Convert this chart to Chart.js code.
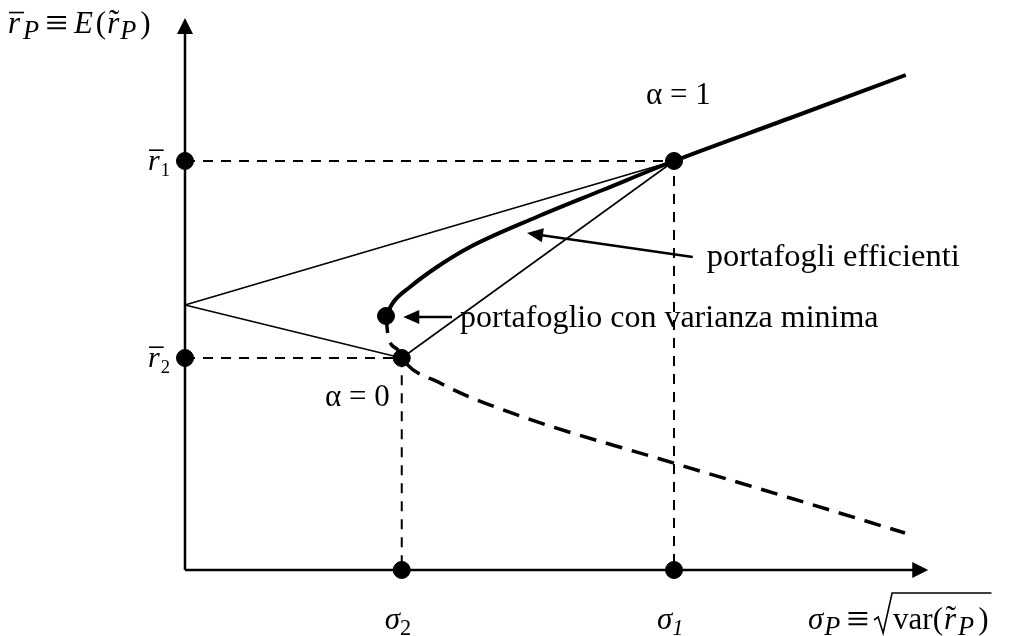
<!DOCTYPE html>
<html lang="it">
<head>
  <meta charset="UTF-8" />
  <title>Frontiera dei portafogli</title>
  <script src="https://cdn.jsdelivr.net/npm/chart.js"></script>
  <style>
    body { margin: 0; background: #fff; }
    canvas { display: block; background: #fff; }
  </style>
</head>
<body>
  <canvas id="frontier" width="1011" height="636"></canvas>

  <script>
    // the two risky assets (sigma, mean return)
    const asset1 = [6.52, 8.18];   // alpha = 1
    const asset2 = [2.89, 4.24];   // alpha = 0
    const minVariance = [2.68, 5.08];
    const intercept = [0, 5.30];

    // efficient branch, from the minimum-variance portfolio upward
    const efficientSigma  = [2.68, 2.77, 3.00, 3.36, 3.80, 4.69, 5.57, 6.52, 8.07, 9.61];
    const efficientReturn = [5.08, 5.34, 5.66, 6.06, 6.46, 7.06, 7.60, 8.18, 9.04, 9.90];

    // inefficient branch (dashed)
    const lowerSigma  = [2.68, 2.71, 2.84, 2.89, 3.40, 4.51, 6.29, 8.07, 9.60];
    const lowerReturn = [5.08, 4.66, 4.40, 4.24, 3.74, 3.06, 2.24, 1.44, 0.74];

    // where the axis arrows end
    const sigmaAxisEnd = 9.91;
    const returnAxisEnd = 11.04;

    const FONT = '"Liberation Serif", "Times New Roman", serif';
    const pt = ([x, y]) => ({ x, y });
    const xy = (xs, ys) => xs.map((x, i) => ({ x, y: ys[i] }));

    function line(data, width, dash) {
      return {
        data, showLine: true, borderColor: '#000', borderWidth: width,
        borderDash: dash || [], pointRadius: 0, clip: false, fill: false
      };
    }

    const datasets = [
      // dots
      {
        data: [
          { x: 0, y: asset1[1] }, { x: 0, y: asset2[1] },
          pt(asset1), pt(asset2), pt(minVariance),
          { x: asset2[0], y: 0 }, { x: asset1[0], y: 0 }
        ],
        showLine: false, pointRadius: 8.5, pointHoverRadius: 8.5,
        backgroundColor: '#000', borderColor: '#000', clip: false
      },
      Object.assign(line(xy(efficientSigma, efficientReturn), 4), { cubicInterpolationMode: 'monotone' }),
      Object.assign(line(xy(lowerSigma, lowerReturn), 3.5, [17, 10]), { cubicInterpolationMode: 'monotone' }),
      line([pt(intercept), pt(asset1)], 1.6),
      line([pt(intercept), pt(asset2)], 1.6),
      line([pt(asset2), pt(asset1)], 1.6),
      line([{ x: 0, y: asset1[1] }, pt(asset1), { x: asset1[0], y: 0 }], 2, [10, 8]),
      line([{ x: 0, y: asset2[1] }, pt(asset2), { x: asset2[0], y: 0 }], 2, [10, 8])
    ];

    function arrowHead(ctx, fx, fy, tx, ty, len, half) {
      const a = Math.atan2(ty - fy, tx - fx);
      ctx.save();
      ctx.translate(tx, ty);
      ctx.rotate(a);
      ctx.beginPath();
      ctx.moveTo(0, 0);
      ctx.lineTo(-len, -half);
      ctx.lineTo(-len, half);
      ctx.closePath();
      ctx.fill();
      ctx.restore();
    }

    function arrow(ctx, fx, fy, tx, ty, width, len, half) {
      const a = Math.atan2(ty - fy, tx - fx);
      ctx.lineWidth = width;
      ctx.beginPath();
      ctx.moveTo(fx, fy);
      ctx.lineTo(tx - Math.cos(a) * (len - 1), ty - Math.sin(a) * (len - 1));
      ctx.stroke();
      arrowHead(ctx, fx, fy, tx, ty, len, half);
    }

    // small math typesetter
    // flags: i = italic, s = subscript, o = overline, t = tilde, b = big symbol; third item = extra gap after
    function drawMath(ctx, runs, x, y, size, subScale = 0.85) {
      let cx = x;
      for (const [text, flags = '', gap = 0] of runs) {
        const sub = flags.includes('s');
        const fs = sub ? size * subScale : flags.includes('b') ? size * 1.3 : size;
        ctx.font = (flags.includes('i') ? 'italic ' : '') + fs + 'px ' + FONT;
        const by = sub ? y + size * 0.2 : flags.includes('b') ? y + size * 0.1 : y;
        ctx.fillText(text, cx, by);
        const w = ctx.measureText(text).width;
        if (flags.includes('o')) {
          ctx.lineWidth = 1.6;
          ctx.beginPath();
          ctx.moveTo(cx + 1, y - size * 0.66);
          ctx.lineTo(cx + w + 4, y - size * 0.66);
          ctx.stroke();
        }
        if (flags.includes('t')) {
          ctx.font = size + 'px ' + FONT;
          ctx.fillText('\u02DC', cx + w * 0.15, y - size * 0.08);
        }
        cx += w + gap;
      }
      return cx;
    }

    const overlay = {
      id: 'overlay',
      afterDatasetsDraw(chart) {
        const ctx = chart.ctx;
        const xs = chart.scales.x, ys = chart.scales.y;
        const px = v => xs.getPixelForValue(v);
        const py = v => ys.getPixelForValue(v);
        ctx.save();
        ctx.fillStyle = '#000';
        ctx.strokeStyle = '#000';
        ctx.textBaseline = 'alphabetic';

        // axes with arrows
        arrow(ctx, px(0), py(0), px(0), py(returnAxisEnd), 2.5, 16, 8);
        arrow(ctx, px(0), py(0), px(sigmaAxisEnd), py(0), 2.5, 16, 8);

        // callout arrows
        const effTail = [6.77, 6.26], effTip = [4.56, 6.74];
        const mvTail = [3.56, 5.06], mvTip = [2.91, 5.06];
        arrow(ctx, px(effTail[0]), py(effTail[1]), px(effTip[0]), py(effTip[1]), 2.5, 16, 7);
        arrow(ctx, px(mvTail[0]), py(mvTail[1]), px(mvTip[0]), py(mvTip[1]), 2.5, 16, 7);

        ctx.textAlign = 'left';
        ctx.font = '32.5px ' + FONT;
        ctx.fillText('portafogli efficienti', px(effTail[0]) + 14, py(effTail[1]) + 9);
        ctx.font = '32px ' + FONT;
        ctx.fillText('portafoglio con varianza minima', px(mvTail[0]) + 8, py(mvTail[1]) + 10);

        ctx.font = '31px ' + FONT;
        ctx.fillText('\u03B1 = 1', px(asset1[0]) - 28, py(asset1[1]) - 57);
        ctx.textAlign = 'right';
        ctx.fillText('\u03B1 = 0', px(asset2[0]) - 12, py(asset2[1]) + 48);
        ctx.textAlign = 'left';

        // axis titles
        drawMath(ctx, [['r', 'io', 3], ['P', 'is', 6], ['\u2261', 'b', 6], ['E', 'i', 3], ['(', '', 1],
                       ['r', 'it', 1], ['P', 'is', 4], [')']], 8, 33, 31);
        drawMath(ctx, [['r', 'io', 1], ['1', 's']], px(0) - 37, py(asset1[1]) + 9, 30, 0.62);
        drawMath(ctx, [['r', 'io', 1], ['2', 's']], px(0) - 37, py(asset2[1]) + 9, 30, 0.62);
        drawMath(ctx, [['\u03C3', 'i'], ['2', 's']], px(asset2[0]) - 17, 629, 31, 0.72);
        drawMath(ctx, [['\u03C3', 'i'], ['1', 'is']], px(asset1[0]) - 17, 629, 31, 0.72);

        const x0 = drawMath(ctx, [['\u03C3', 'i', 1], ['P', 'is', 6], ['\u2261', 'b', 5]], 808, 629, 31);
        const rx = x0 + 18;
        const end = drawMath(ctx, [['var(', '', 1], ['r', 'it', 2], ['P', 'is', 4], [')']], rx + 1, 629, 31);
        ctx.lineWidth = 1.6;
        ctx.beginPath();
        ctx.moveTo(x0, 620);
        ctx.lineTo(x0 + 4, 617);
        ctx.lineTo(x0 + 9, 633);
        ctx.lineTo(rx, 593);
        ctx.lineTo(end + 3, 593);
        ctx.stroke();

        ctx.restore();
      }
    };

    new Chart(document.getElementById('frontier').getContext('2d'), {
      type: 'scatter',
      data: { datasets },
      options: {
        responsive: false,
        animation: false,
        events: [],
        layout: { padding: { left: 185, right: 76, top: 15, bottom: 66 } },
        scales: {
          x: { type: 'linear', min: 0, max: 10, display: false },
          y: { type: 'linear', min: 0, max: 11.1, display: false }
        },
        plugins: { legend: { display: false }, tooltip: { enabled: false } }
      },
      plugins: [overlay]
    });
  </script>
</body>
</html>
